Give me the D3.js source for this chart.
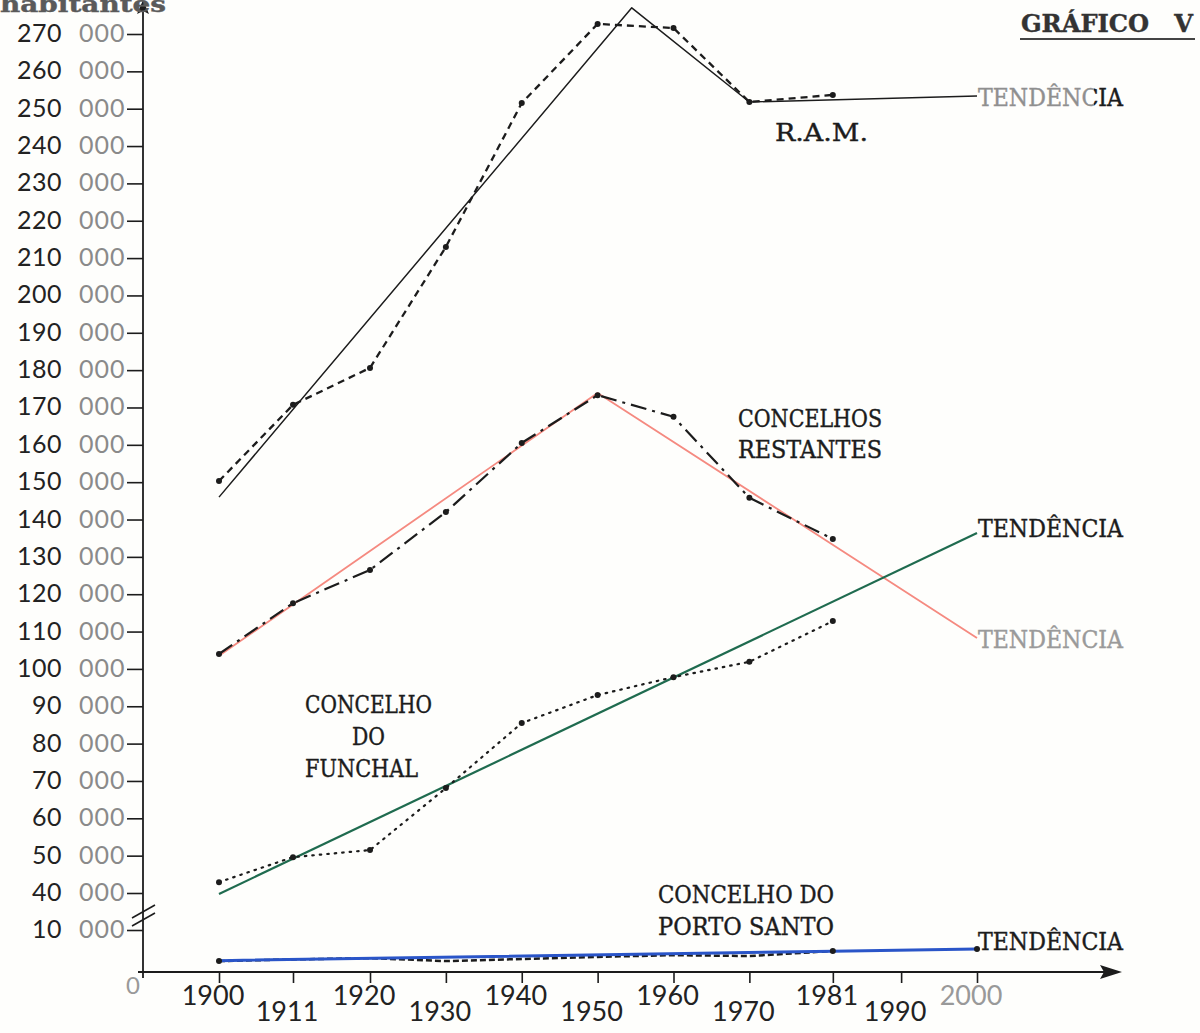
<!DOCTYPE html>
<html><head><meta charset="utf-8">
<script src="https://cdn.jsdelivr.net/npm/d3@7"></script>
<style>body{margin:0;background:#fefefc}svg{display:block}</style>
</head><body>
<svg id="c" width="1200" height="1033"></svg>
<script>
// ---- data ----
const years = [1900, 1911, 1920, 1930, 1940, 1950, 1960, 1970, 1981];
const ram        = [150300, 170700, 180600, 213000, 251500, 272700, 271600, 251800, 253700];
const restantes  = [104000, 117600, 126500, 142000, 160500, 173300, 167500, 145800, 134800];
const funchal    = [42900, 49600, 51500, 68100, 85500, 93000, 97800, 101900, 112800];
const portoSanto = [2600, 3000, 3300, 2600, 3100, 3600, 4000, 3800, 5000];

const ramTrendYears = [1900, 1954.5, 1970, 2000];
const ramTrend      = [146000, 277000, 251800, 253400];
const restTrendYears = [1900, 1950, 2000];
const restTrend      = [103500, 173900, 108300];
const funchalTrendYears = [1900, 2000];
const funchalTrend      = [39200, 136400];
const psTrendYears = [1900, 1981, 2000];
const psTrend      = [2700, 4950, 5480];

const xTicks = [1900, 1911, 1920, 1930, 1940, 1950, 1960, 1970, 1981, 1990, 2000];
const yTicks = [10000, 40000, 50000, 60000, 70000, 80000, 90000, 100000, 110000, 120000,
  130000, 140000, 150000, 160000, 170000, 180000, 190000, 200000, 210000, 220000,
  230000, 240000, 250000, 260000, 270000];

// ---- scales (hand-drawn axis: broken y axis, slightly irregular x axis) ----
const x = d3.scaleLinear().domain([1900, 1911, 1920, 2000]).range([219, 293, 370, 977]);
const y = d3.scaleLinear().domain([0, 10000, 40000, 270000]).range([972, 930, 893, 34]);

const svg = d3.select('#c');
const ox = 143, oy = y(0);
const ink = '#1c1c1c';
const TYPE = "'DejaVu Serif', serif";
const LETTER = "Lato, 'Open Sans', sans-serif";

// two-tone fill for the faded "TENDÊNCIA" label
const grad = svg.append('defs').append('linearGradient').attr('id', 'fade')
  .attr('gradientUnits', 'userSpaceOnUse').attr('x1', 978).attr('x2', 1123).attr('y1', 0).attr('y2', 0);
grad.append('stop').attr('offset', 0.8).attr('stop-color', '#8f8f8f');
grad.append('stop').attr('offset', 0.8).attr('stop-color', ink);

// axes lines
svg.append('line').attr('x1', 138).attr('x2', 1104).attr('y1', oy).attr('y2', oy)
  .attr('stroke', ink).attr('stroke-width', 1.8);
svg.append('path').attr('d', `M1122,${oy} L1100,${oy-7} L1104,${oy} L1100,${oy+7} Z`).attr('fill', ink);
svg.append('line').attr('x1', ox).attr('x2', ox).attr('y1', oy + 6).attr('y2', 12)
  .attr('stroke', ink).attr('stroke-width', 1.8);
svg.append('path').attr('d', `M${ox},0 L${ox-6},14 L${ox},11 L${ox+6},14 Z`).attr('fill', ink);

// break marks on y axis
[0, 8].forEach(dy => {
  svg.append('line').attr('x1', 132).attr('y1', 918 + dy).attr('x2', 155).attr('y2', 905 + dy)
    .attr('stroke', ink).attr('stroke-width', 1.6);
});

// axis ticks
const gx = svg.append('g').attr('transform', `translate(0,${oy})`)
  .call(d3.axisBottom(x).tickValues(xTicks).tickSize(11).tickFormat(''));
gx.select('.domain').remove();
gx.selectAll('line').attr('stroke', ink).attr('stroke-width', 1.6);

const gy = svg.append('g').attr('transform', `translate(${ox},0)`)
  .call(d3.axisLeft(y).tickValues(yTicks).tickSize(16).tickFormat(''));
gy.select('.domain').remove();
gy.selectAll('line').attr('stroke', ink).attr('stroke-width', 1.6);

// y tick labels
yTicks.forEach(v => {
  const yy = y(v) + 8;
  svg.append('text').attr('x', 62).attr('y', yy).attr('text-anchor', 'end')
    .attr('font-family', LETTER).attr('font-size', 25).attr('fill', '#222')
    .attr('letter-spacing', 0.5).text(String(v / 1000));
  svg.append('text').attr('x', 79).attr('y', yy)
    .attr('font-family', LETTER).attr('font-size', 25).attr('fill', '#8a8a8a')
    .attr('letter-spacing', 1).text('000');
});
svg.append('text').attr('x', 133).attr('y', 994).attr('text-anchor', 'middle')
  .attr('font-family', LETTER).attr('font-size', 24).attr('fill', '#999').text('0');

// x tick labels (staggered)
xTicks.forEach((t, i) => {
  svg.append('text').attr('x', x(t) - 6).attr('y', i % 2 === 0 ? 1005 : 1021)
    .attr('text-anchor', 'middle').attr('font-family', LETTER).attr('font-size', 27)
    .attr('fill', t === 2000 ? '#999' : '#222').text(String(t));
});

// ---- lines ----
const line = d3.line().x(d => x(d[0])).y(d => y(d[1]));
const pts = vals => years.map((yr, i) => [yr, vals[i]]);
const tpts = (ys, vs) => ys.map((yr, i) => [yr, vs[i]]);

function draw(data, stroke, width, dash, cap) {
  svg.append('path').datum(data).attr('d', line).attr('fill', 'none')
    .attr('stroke', stroke).attr('stroke-width', width)
    .attr('stroke-dasharray', dash || null).attr('stroke-linecap', cap || 'butt')
    .attr('stroke-linejoin', 'round');
}
function dots(data) {
  svg.append('g').selectAll('circle').data(data).join('circle')
    .attr('cx', d => x(d[0])).attr('cy', d => y(d[1])).attr('r', 3).attr('fill', ink);
}

// trends
draw(tpts(ramTrendYears, ramTrend), ink, 1.5);
draw(tpts(restTrendYears, restTrend), '#f58a80', 1.8);
draw(tpts(funchalTrendYears, funchalTrend), '#1f6b4f', 2.2);

// data series
draw(pts(ram), ink, 2.3, '7,5');
dots(pts(ram));
draw(pts(restantes), ink, 2.2, '16,6,3,6');
dots(pts(restantes));
draw(pts(funchal), ink, 2.2, '1.5,6', 'round');
dots(pts(funchal));
draw(pts(portoSanto), ink, 2.5, '6,3');
draw(tpts(psTrendYears, psTrend), '#2a55c8', 3);
dots(pts(portoSanto).slice(0, 1).concat(pts(portoSanto).slice(-1)));
dots([[2000, psTrend[psTrend.length - 1]]]);

// ---- text labels ----
function label(txt, xx, yy, len, fill, size, weight) {
  return svg.append('text').attr('x', xx).attr('y', yy)
    .attr('font-family', TYPE).attr('font-size', size || 24)
    .attr('font-weight', weight || 'normal')
    .attr('fill', fill || ink).attr('stroke', fill || ink).attr('stroke-width', 0.4)
    .attr('textLength', len)
    .attr('lengthAdjust', 'spacingAndGlyphs').style('white-space', 'pre').text(txt);
}
label('habitantes', 0, 12, 166, '#5a5a5a', 22, 'bold');
label('GRÁFICO   V', 1021, 32, 172, '#333', 24, 'bold');
svg.append('line').attr('x1', 1020).attr('x2', 1195).attr('y1', 39).attr('y2', 39)
  .attr('stroke', '#444').attr('stroke-width', 2);

label('TENDÊNCIA', 978, 106, 145, 'url(#fade)');
label('R.A.M.', 775, 141, 93);
label('CONCELHOS', 738, 427, 144);
label('RESTANTES', 738, 458, 144);
label('TENDÊNCIA', 978, 537, 145);
label('TENDÊNCIA', 978, 648, 145, '#9a9a9a');
label('CONCELHO', 305, 713, 127);
label('DO', 352, 745, 33);
label('FUNCHAL', 305, 777, 113);
label('CONCELHO DO', 658, 903, 176);
label('PORTO SANTO', 658, 935, 176);
label('TENDÊNCIA', 978, 950, 145);
</script>
</body></html>
